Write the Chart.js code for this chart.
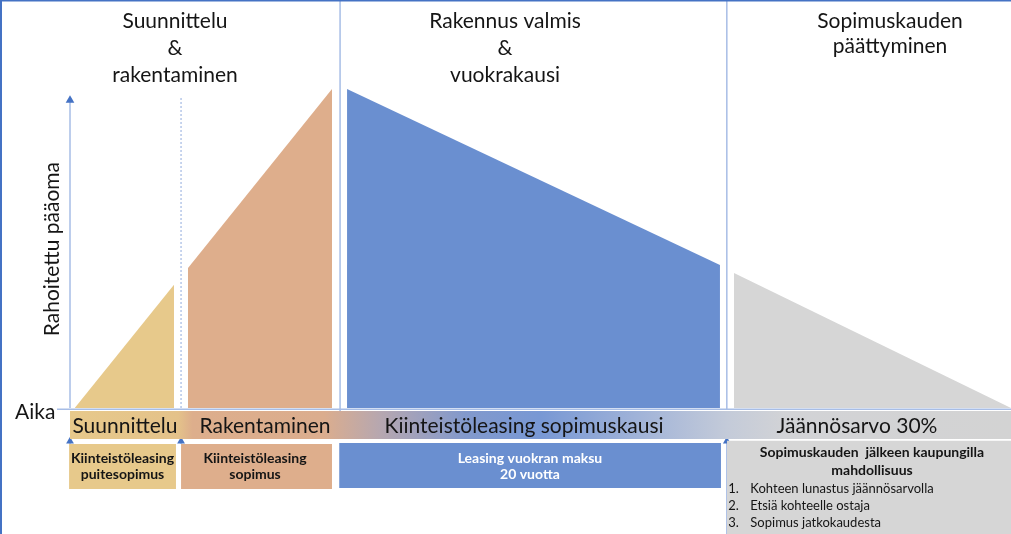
<!DOCTYPE html>
<html><head><meta charset="utf-8">
<script src="https://cdn.jsdelivr.net/npm/chart.js@4/dist/chart.umd.min.js"></script>
<style>html,body{margin:0;padding:0;background:#fff;}#wrap{width:1011px;height:534px;position:relative;}</style>
</head><body><div id="wrap"><canvas id="c"></canvas></div>
<script>
// ---- DATA (time axis in relative units 0..100, financed principal in % of max) ----
const headerTexts = [['Suunnittelu', '&', 'rakentaminen'], ['Rakennus valmis', '&', 'vuokrakausi'], ['Sopimuskauden', 'päättyminen']];
const phaseNames = ['Suunnittelu', 'Rakentaminen', 'Kiinteistöleasing sopimuskausi', 'Jäännösarvo 30%'];
const axisTitle = 'Rahoitettu pääoma';
const timeLabel = 'Aika';

const planningX = [0.5, 11.05, 11.05];
const planningY = [0, 38.6, 0];
const constructionX = [12.54, 12.54, 27.84, 27.84];
const constructionY = [0, 43.9, 100, 0];
const leaseX = [29.44, 29.44, 69.07, 69.07];
const leaseY = [0, 100, 44.8, 0];
const residualX = [70.56, 70.56, 100];
const residualY = [0, 42.3, 0];

const milestoneX = [0, 11.8, 28.7, 69.8];

const contractLabels = [['Kiinteistöleasing', 'puitesopimus'], ['Kiinteistöleasing', 'sopimus'], ['Leasing vuokran maksu', '20 vuotta']];
const contractStart = [-0.1, 11.8, 28.6];
const contractEnd = [11.26, 27.84, 69.18];

const optionTitle = ['Sopimuskauden  jälkeen kaupungilla', 'mahdollisuus'];
const optionItems = ['Kohteen lunastus jäännösarvolla', 'Etsiä kohteelle ostaja', 'Sopimus jatkokaudesta'];

// ---- LAYOUT / STYLE ----
const xMin = -7.44, xMax = 100, yMin = -39.5, yMax = 127.9;
const C = {
  yellow: '#E7C98B', orange: '#DEAE8C', blue: '#6A8FD0', grey: '#D6D6D6',
  line: '#A7BDE6', arrow: '#4472C4', text: '#151515'
};
const bandStops = [0, 0.115, 0.13, 0.27, 0.33, 0.42, 0.5, 0.6, 0.7, 0.76, 1];
const bandColors = ['#E7C98B', '#E4C28A', '#DDAE8C', '#DBAD8E', '#B6A7B0', '#8299CC', '#7898D4', '#9FB2D8', '#C4CBD9', '#D2D3D6', '#D3D3D3'];

const pts = (xs, ys) => xs.map((x, i) => ({ x, y: ys[i] }));
const shape = (xs, ys, color) => ({ data: pts(xs, ys), fill: 'origin', backgroundColor: color, borderWidth: 0, pointRadius: 0, tension: 0 });
const rect = (x0, x1, top, bottom, color) => ({ data: [{ x: x0, y: top }, { x: x1, y: top }], fill: { value: bottom }, backgroundColor: color, borderWidth: 0, pointRadius: 0 });
const vline = (x, y0, y1, opts) => Object.assign({ data: [{ x, y: y0 }, { x, y: y1 }], fill: false, borderColor: C.line, borderWidth: 1.5, pointRadius: 0 }, opts || {});
const arrowLine = (x, y0, y1) => ({ data: [{ x, y: y0 }, { x, y: y1 }], fill: false, borderColor: C.line, borderWidth: 1.5,
  pointStyle: 'triangle', pointRadius: [0, 4.5], pointBackgroundColor: C.arrow, pointBorderWidth: 0 });

const bandDataset = {
  data: [{ x: 0, y: -0.94 }, { x: 100, y: -0.94 }], fill: { value: -9.72 }, borderWidth: 0, pointRadius: 0,
  backgroundColor: (ctx) => {
    const chart = ctx.chart;
    if (!chart.chartArea) return '#D0D0D0';
    const xs = chart.scales.x;
    const g = chart.ctx.createLinearGradient(xs.getPixelForValue(0), 0, xs.getPixelForValue(100), 0);
    bandStops.forEach((s, i) => g.addColorStop(s, bandColors[i]));
    return g;
  }
};

const datasets = [
  shape(planningX, planningY, C.yellow),
  shape(constructionX, constructionY, C.orange),
  shape(leaseX, leaseY, C.blue),
  shape(residualX, residualY, C.grey),
  bandDataset,
  rect(contractStart[0], contractEnd[0], -11.3, -25.4, C.yellow),
  rect(contractStart[1], contractEnd[1], -11.3, -25.4, C.orange),
  rect(contractStart[2], contractEnd[2], -11.0, -25.1, C.blue),
  rect(milestoneX[3], xMax, -10.3, yMin, C.grey),
  // y axis with arrow
  { data: [{ x: milestoneX[0], y: 0 }, { x: milestoneX[0], y: 96.5 }], fill: false, borderColor: C.line, borderWidth: 1.5,
    pointStyle: 'triangle', pointRadius: [0, 5], pointBackgroundColor: C.arrow, pointBorderWidth: 0 },
  // time baseline
  { data: [{ x: -1.38, y: -0.4 }, { x: xMax, y: -0.4 }], fill: false, borderColor: C.line, borderWidth: 1.5, pointRadius: 0 },
  vline(milestoneX[1], 0, 97.5, { borderDash: [2, 2], borderWidth: 1, borderColor: '#8FAADC' }),
  vline(milestoneX[2], -1, yMax),
  vline(milestoneX[3], -0.4, yMax),
  arrowLine(milestoneX[0], -11.3, -10.4),
  arrowLine(milestoneX[1], -11.3, -10.4),
  arrowLine(milestoneX[3], yMin, -10.4)
];

const textPlugin = {
  id: 'texts',
  afterDraw(chart) {
    const { ctx, scales: { x, y } } = chart;
    const X = u => x.getPixelForValue(u), Y = v => y.getPixelForValue(v);
    ctx.save();
    ctx.textBaseline = 'alphabetic';
    ctx.fillStyle = C.text;
    // headers
    ctx.font = '21px Lato';
    ctx.textAlign = 'center';
    const hx = [11.16, 46.23, 87.14];
    const hy = [[119.1, 110.7, 102.2], [119.1, 110.7, 102.2], [119.1, 111.3]];
    headerTexts.forEach((lines, i) => lines.forEach((t, j) => ctx.fillText(t, X(hx[i]), Y(hy[i][j]))));
    // Aika
    ctx.textAlign = 'right';
    ctx.fillText(timeLabel, X(-1.55), Y(-3.5));
    // axis title rotated
    ctx.save();
    ctx.translate(X(-1.2), Y(49.8));
    ctx.rotate(-Math.PI / 2);
    ctx.textAlign = 'center';
    ctx.fillText(axisTitle, 0, 0);
    ctx.restore();
    // band labels
    ctx.textAlign = 'center';
    ctx.font = '21px Lato';
    const bx = [5.84, 20.72, 48.25, 83.63];
    phaseNames.forEach((t, i) => ctx.fillText(t, X(bx[i]), Y(-7.9)));
    // contract boxes
    ctx.font = 'bold 14px Lato';
    const cx = [5.58, 19.66, 48.88];
    contractLabels.forEach((lines, i) => {
      ctx.fillStyle = i === 2 ? '#FFFFFF' : C.text;
      lines.forEach((t, j) => ctx.fillText(t, X(cx[i]), Y(j === 0 ? -17.2 : -22.2)));
    });
    // option box
    ctx.fillStyle = C.text;
    optionTitle.forEach((t, j) => ctx.fillText(t, X(85.23), Y(j === 0 ? -15.4 : -21.0)));
    ctx.font = '13px Lato';
    const ly = [-26.6, -31.9, -37.3];
    optionItems.forEach((t, j) => {
      ctx.textAlign = 'left';
      ctx.fillText((j + 1) + '.', X(69.95), Y(ly[j]));
      ctx.fillText(t, X(72.3), Y(ly[j]));
    });
    // frame
    ctx.fillStyle = '#4472C4';
    ctx.fillRect(0, 0, 2, chart.height);
    ctx.fillRect(0, 0, chart.width, 1.5);
    ctx.restore();
  }
};

new Chart(document.getElementById('c'), {
  type: 'line',
  data: { datasets },
  options: {
    responsive: true, maintainAspectRatio: false, animation: false, events: [],
    layout: { padding: 0, autoPadding: false },
    plugins: { legend: { display: false }, tooltip: { enabled: false } },
    scales: {
      x: { type: 'linear', min: xMin, max: xMax, display: false },
      y: { type: 'linear', min: yMin, max: yMax, display: false }
    }
  },
  plugins: [textPlugin]
});
</script></body></html>
